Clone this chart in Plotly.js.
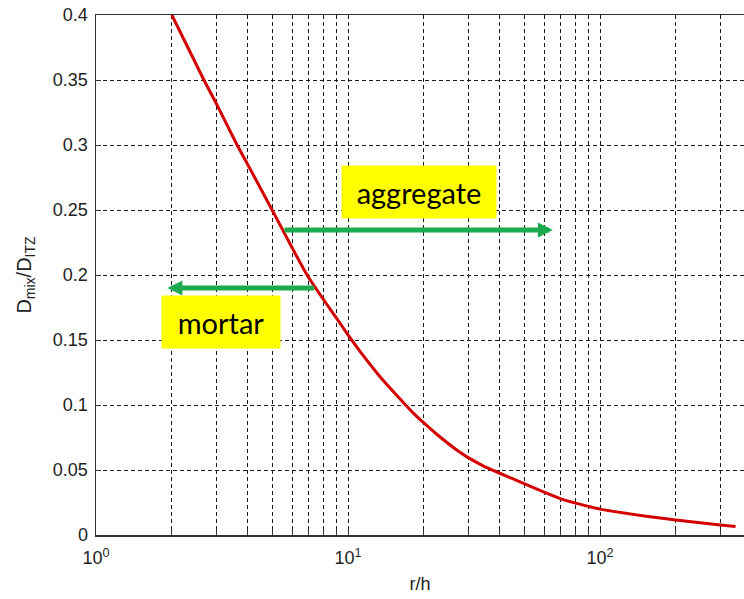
<!DOCTYPE html>
<html>
<head>
<meta charset="utf-8">
<script src="https://cdn.plot.ly/plotly-3.0.1.min.js"></script>
<style>html,body{margin:0;padding:0;background:#fff;}#chart{width:744px;height:599px;}</style>
</head>
<body>
<div id="chart"></div>
<script>
// Curve data (r/h vs D_mix/D_ITZ)
const rh = [2, 2.68, 3, 3.63, 4, 5, 6, 6.88, 8, 8.48, 10, 11.5, 13.4, 15.6, 18.2, 20, 22.5, 27, 30, 34.4, 40, 50, 60, 70, 80, 90, 100, 150, 200, 300, 345];
const dRatio = [0.4, 0.35, 0.332, 0.30, 0.285, 0.25, 0.221, 0.2, 0.181, 0.174, 0.154, 0.138, 0.1218, 0.1075, 0.0936, 0.0862, 0.0775, 0.0654, 0.0595, 0.0532, 0.0475, 0.0395, 0.033, 0.0278, 0.0245, 0.0220, 0.0199, 0.0146, 0.0115, 0.0077, 0.0066];

// X ticks (log axis): gridline positions and labels
const xTickVals = [1,2,3,4,5,6,7,8,9,10,20,30,40,50,60,70,80,90,100,200,300];
const xTickText = ['10<sup>0</sup>','','','','','','','','','10<sup>1</sup>','','','','','','','','','10<sup>2</sup>','',''];
const yTickVals = [0,0.05,0.1,0.15,0.2,0.25,0.3,0.35,0.4];
const yTickText = ['0','0.05','0.1','0.15','0.2','0.25','0.3','0.35','0.4'];

// Annotation labels
const labelTexts = ['aggregate', 'mortar'];
const labelX = [19.1, 3.13];
const labelY = [0.2638, 0.1642];
const labelW = [152, 116];
// Arrows: tail -> head
const arrowTailX = [5.52, 7.45];
const arrowHeadX = [65, 1.92];
const arrowY = [0.2346, 0.19];

const grid = {showgrid:true, gridcolor:'#1a1a1a', gridwidth:1, griddash:'4px,3px'};
const baseFont = 'Liberation Sans, Arial, sans-serif';

const annotations = [];
for (let i = 0; i < labelTexts.length; i++) {
  annotations.push({
    x: Math.log10(labelX[i]), y: labelY[i], xref:'x', yref:'y',
    text: labelTexts[i], showarrow:false,
    bgcolor:'#ffff00', width: labelW[i], height: 50,
    font:{family:'Lato, Noto Sans, sans-serif', size:29, color:'#000'}
  });
}
for (let i = 0; i < arrowTailX.length; i++) {
  annotations.push({
    x: Math.log10(arrowHeadX[i]), y: arrowY[i], xref:'x', yref:'y',
    ax: Math.log10(arrowTailX[i]), ay: arrowY[i], axref:'x', ayref:'y',
    text:'', showarrow:true, arrowhead:2, arrowsize:0.6, arrowwidth:5,
    arrowcolor:'#1daa4f', standoff:0, startstandoff:0
  });
}

const trace = {
  x: rh, y: dRatio, type:'scatter', mode:'lines',
  line:{color:'#d40000', width:3, shape:'spline', smoothing:0.5}, hoverinfo:'skip'
};

const layout = {
  width:744, height:599,
  margin:{l:96, r:0, t:15, b:64},
  paper_bgcolor:'#fff', plot_bgcolor:'#fff',
  showlegend:false,
  font:{family:baseFont, size:18, color:'#222'},
  xaxis: Object.assign({
    type:'log', range:[0, 2.5714], autorange:false,
    tickmode:'array', tickvals:xTickVals, ticktext:xTickText,
    ticks:'inside', ticklen:5, tickcolor:'#333',
    showline:true, linecolor:'#333', linewidth:1.5, mirror:true,
    zeroline:false, ticklabelstandoff:6,
    tickfont:{family:baseFont, size:18, color:'#222'},
    title:{text:'r/h', font:{family:baseFont, size:18, color:'#222'}, standoff:10}
  }, grid),
  yaxis: Object.assign({
    range:[0, 0.4], autorange:false,
    tickmode:'array', tickvals:yTickVals, ticktext:yTickText,
    ticks:'inside', ticklen:5, tickcolor:'#333',
    showline:true, linecolor:'#333', linewidth:1.5,
    zeroline:false, ticklabelstandoff:3,
    tickfont:{family:baseFont, size:18, color:'#222'},
    title:{text:'D<sub>mix</sub>/D<sub>ITZ</sub>', font:{family:baseFont, size:20, color:'#222'}, standoff:16}
  }, grid),
  annotations: annotations
};

Plotly.newPlot('chart', [trace], layout, {staticPlot:true, displayModeBar:false});
</script>
</body>
</html>
